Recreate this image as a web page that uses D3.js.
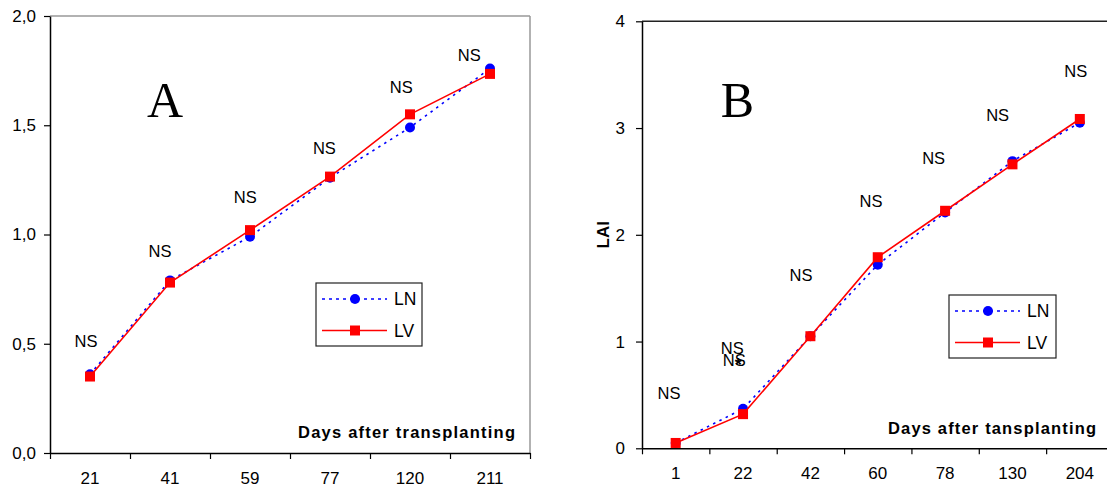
<!DOCTYPE html>
<html>
<head>
<meta charset="utf-8">
<script src="https://cdn.jsdelivr.net/npm/d3@7"></script>
<style>
  body { margin: 0; background: #fff; }
  svg { display: block; font-family: "Liberation Sans", Arial, sans-serif; }
</style>
</head>
<body>
<div id="chartDiv"></div>
<script>
// panel A
var daysA = ["21", "41", "59", "77", "120", "211"];
var lnA = [0.36, 0.79, 0.99, 1.26, 1.49, 1.76];
var lvA = [0.35, 0.78, 1.02, 1.265, 1.55, 1.735];
var nsYA = [0.51, 0.925, 1.17, 1.395, 1.675, 1.82];
var nsShiftA = [-0.05, -0.125, -0.06, -0.07, -0.11, -0.26];
var yTicksA = [0, 0.5, 1.0, 1.5, 2.0];

// panel B
var daysB = ["1", "22", "42", "60", "78", "130", "204"];
var lnB = [0.05, 0.37, 1.05, 1.72, 2.21, 2.69, 3.05];
var lvB = [0.05, 0.32, 1.05, 1.79, 2.225, 2.66, 3.085];
var nsYB = [0.515, 0.937, 1.62, 2.31, 2.716, 3.12, 3.53];
var nsShiftB = [-0.1, -0.16, -0.14, -0.1, -0.17, -0.22, -0.06];
var yTicksB = [0, 1, 2, 3, 4];

;(function() {

	var width = 1107;
	var height = 490;

	var svg = d3.select("#chartDiv").append("svg")
		.attr("width", width)
		.attr("height", height);

	drawPanel({
		left: 50, right: 530, top: 16, bottom: 453,
		yMax: 2, yTicks: yTicksA, fmt: function(d) { return d3.format(".1f")(d).replace(".", ","); },
		pad: 8, cats: daysA, ln: lnA, lv: lvA, nsY: nsYA, nsShift: nsShiftA,
		letter: "A", letterX: 165, letterY: 117,
		legend: { x: 316, y: 283, w: 106, h: 63 },
		xTitle: "Days after transplanting", xTitleX: 298, xTitleY: 437.5, xTitleW: 217,
		frameColor: "#999", frameRight: true
	});

	drawPanel({
		left: 642, right: 1113.5, top: 21.3, bottom: 448.3,
		yMax: 4, yTicks: yTicksB, fmt: d3.format("d"),
		pad: 11, cats: daysB, ln: lnB, lv: lvB, nsY: nsYB, nsShift: nsShiftB,
		letter: "B", letterX: 737.5, letterY: 117,
		legend: { x: 949, y: 295, w: 107, h: 63 },
		xTitle: "Days after tansplanting", xTitleX: 888, xTitleY: 433.5, xTitleW: 208,
		frameColor: "#222", frameRight: false,
		yLabel: "LAI"
	});

	function drawPanel(p) {
		var g = svg.append("g");

		var x = d3.scaleBand().domain(p.cats).range([p.left, p.right]);
		var xi = d3.scaleLinear().domain([0, p.cats.length]).range([p.left, p.right]);
		var y = d3.scaleLinear().domain([0, p.yMax]).range([p.bottom, p.top]);
		var cx = function(c) { return x(c) + x.bandwidth() / 2; };

		// frame (top + right)
		g.append("line")
			.attr("x1", p.left).attr("x2", p.right)
			.attr("y1", y(p.yMax)).attr("y2", y(p.yMax))
			.attr("stroke", p.frameColor).attr("stroke-width", 1.5);
		if (p.frameRight) {
			g.append("line")
				.attr("x1", p.right).attr("x2", p.right)
				.attr("y1", y(p.yMax)).attr("y2", y(0))
				.attr("stroke", p.frameColor).attr("stroke-width", 1.5);
		}

		// y axis
		var yAxis = g.append("g")
			.attr("transform", "translate(" + p.left + ",0)")
			.call(d3.axisLeft(y).tickValues(p.yTicks).tickFormat(p.fmt)
				.tickSize(6).tickSizeOuter(0).tickPadding(p.pad));
		yAxis.select(".domain").attr("stroke", "#000").attr("stroke-width", 1.5);
		yAxis.selectAll(".tick line").attr("stroke", "#000").attr("stroke-width", 1.2);
		yAxis.selectAll("text").attr("font-size", 17).attr("fill", "#000")
			.attr("font-family", "Liberation Sans, Arial, sans-serif");

		// x axis: ticks at band edges, labels at centers
		var xTicks = g.append("g")
			.attr("transform", "translate(0," + p.bottom + ")")
			.call(d3.axisBottom(xi).tickValues(d3.range(p.cats.length + 1)).tickFormat("")
				.tickSize(6).tickSizeOuter(0));
		xTicks.select(".domain").attr("stroke", "#000").attr("stroke-width", 1.5);
		xTicks.selectAll(".tick line").attr("stroke", "#000").attr("stroke-width", 1.2);

		var xLabels = g.append("g")
			.attr("transform", "translate(0," + p.bottom + ")")
			.call(d3.axisBottom(x).tickSize(0).tickPadding(19));
		xLabels.select(".domain").remove();
		xLabels.selectAll("text").attr("font-size", 17).attr("fill", "#000")
			.attr("font-family", "Liberation Sans, Arial, sans-serif");

		// NS labels
		g.selectAll(".ns")
			.data(p.cats)
			.enter().append("text")
				.attr("class", "ns")
				.attr("x", function(d, i) { return x(d) + x.bandwidth() * (0.5 + p.nsShift[i]); })
				.attr("y", function(d, i) { return y(p.nsY[i]); })
				.attr("dy", "0.35em")
				.attr("text-anchor", "middle")
				.attr("font-size", 16.5)
				.text("NS");

		if (p.letter === "B") {
			// overlapping second label at 22 days (as printed in the source)
			var c = p.cats[1];
			g.append("text")
				.attr("x", x(c) + x.bandwidth() * 0.37)
				.attr("y", y(0.827))
				.attr("dy", "0.35em")
				.attr("text-anchor", "middle")
				.attr("font-size", 16.5)
				.text("NS");
			g.append("text")
				.attr("x", x(c) + x.bandwidth() * 0.43)
				.attr("y", y(0.78))
				.attr("dy", "0.35em")
				.attr("text-anchor", "middle")
				.attr("font-size", 18)
				.attr("font-weight", "bold")
				.text("*");
		}

		// LN series: blue dotted + circles
		var line = d3.line()
			.x(function(d, i) { return cx(p.cats[i]); })
			.y(function(d) { return y(d); });

		g.append("path")
			.datum(p.ln)
			.attr("d", line)
			.attr("fill", "none")
			.attr("stroke", "#0000ff")
			.attr("stroke-width", 1.6)
			.attr("stroke-dasharray", "2.5,4.5");

		g.selectAll(".dot")
			.data(p.ln)
			.enter().append("circle")
				.attr("class", "dot")
				.attr("cx", function(d, i) { return cx(p.cats[i]); })
				.attr("cy", function(d) { return y(d); })
				.attr("r", 5)
				.attr("fill", "#0000ff");

		// LV series: red solid + squares
		g.append("path")
			.datum(p.lv)
			.attr("d", line)
			.attr("fill", "none")
			.attr("stroke", "#ff0000")
			.attr("stroke-width", 1.6);

		g.selectAll(".sq")
			.data(p.lv)
			.enter().append("rect")
				.attr("class", "sq")
				.attr("x", function(d, i) { return cx(p.cats[i]) - 5; })
				.attr("y", function(d) { return y(d) - 5; })
				.attr("width", 10)
				.attr("height", 10)
				.attr("fill", "#ff0000");

		// big panel letter
		g.append("text")
			.attr("x", p.letterX)
			.attr("y", p.letterY)
			.attr("text-anchor", "middle")
			.attr("font-family", "Liberation Serif, Times New Roman, serif")
			.attr("font-size", 50)
			.text(p.letter);

		// x title
		g.append("text")
			.attr("x", p.xTitleX)
			.attr("y", p.xTitleY)
			.attr("font-size", 16.5)
			.attr("font-weight", "bold")
			.attr("textLength", p.xTitleW)
			.attr("lengthAdjust", "spacing")
			.text(p.xTitle);

		if (p.yLabel) {
			g.append("text")
				.attr("transform", "translate(609," + y(2) + ") rotate(-90)")
				.attr("text-anchor", "middle")
				.attr("font-size", 17)
				.attr("font-weight", "bold")
				.text(p.yLabel);
		}

		// legend
		var L = p.legend;
		var lg = g.append("g").attr("transform", "translate(" + L.x + "," + L.y + ")");
		lg.append("rect")
			.attr("width", L.w).attr("height", L.h)
			.attr("fill", "#fff").attr("stroke", "#222").attr("stroke-width", 1.2);
		var rows = [
			{ name: "LN", color: "#0000ff", dash: "3,4", shape: "circle" },
			{ name: "LV", color: "#ff0000", dash: null, shape: "square" }
		];
		rows.forEach(function(r, i) {
			var ry = 16 + i * 31.5;
			lg.append("line")
				.attr("x1", 6).attr("x2", 71)
				.attr("y1", ry).attr("y2", ry)
				.attr("stroke", r.color).attr("stroke-width", 1.6)
				.attr("stroke-dasharray", r.dash);
			if (r.shape === "circle") {
				lg.append("circle").attr("cx", 39).attr("cy", ry).attr("r", 5).attr("fill", r.color);
			} else {
				lg.append("rect").attr("x", 34).attr("y", ry - 5).attr("width", 10).attr("height", 10).attr("fill", r.color);
			}
			lg.append("text")
				.attr("x", 78).attr("y", ry)
				.attr("dy", "0.35em")
				.attr("font-size", 17.5)
				.text(r.name);
		});
	}

})();
</script>
</body>
</html>
